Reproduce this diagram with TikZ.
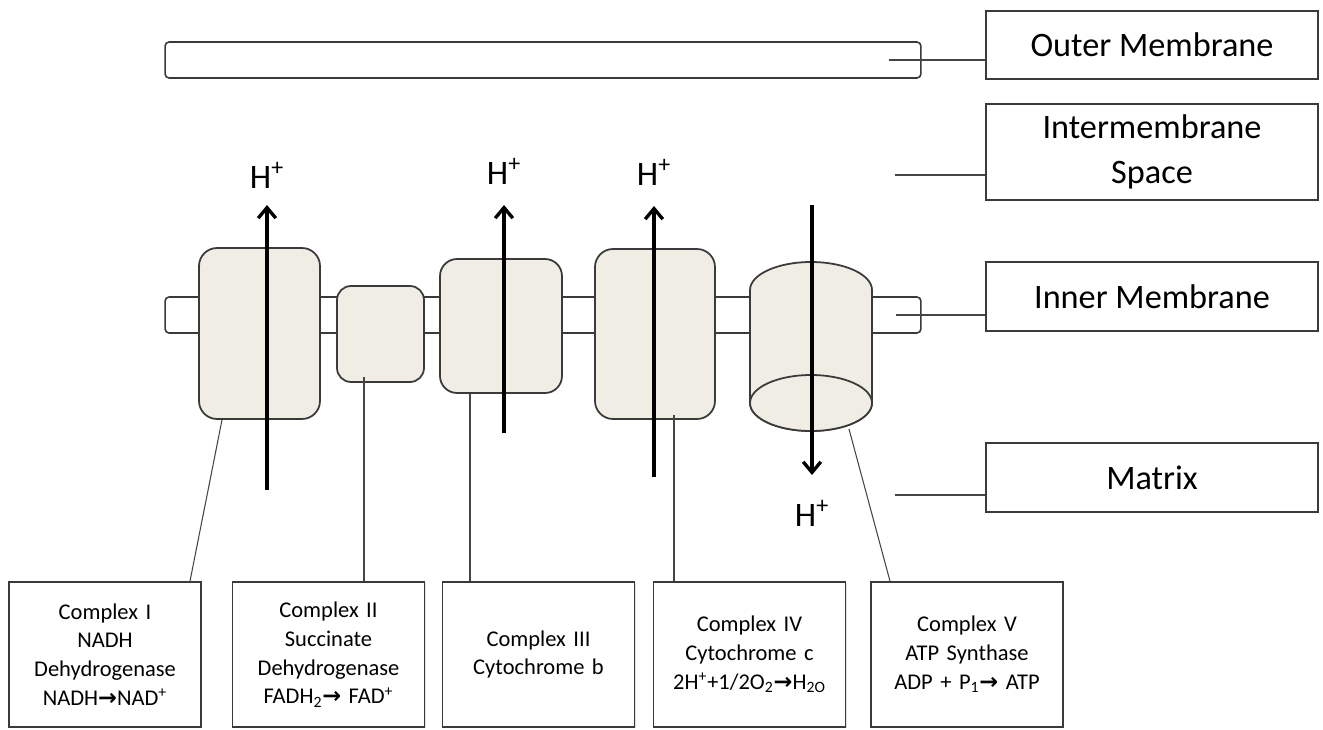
\documentclass[tikz,border=0pt]{standalone}
\usepackage{fontspec}
\setmainfont{Carlito}
\newfontfamily\arrowfont{DejaVu Sans}
\usepackage{xcolor}
\usepackage{tikz}
\usetikzlibrary{arrows.meta, positioning, calc, shadows}
\definecolor{cFILL}{HTML}{F0EDE5}
\definecolor{cLINE}{HTML}{3A3A3A}
\definecolor{cLEAD}{HTML}{454545}
\newcommand{\yields}{{\arrowfont\bfseries →}}

\begin{document}
\begin{tikzpicture}[x=0.02cm, y=-0.02cm,
  membrane/.style={draw=cLINE, line width=0.9pt, rounded corners=0.08cm, fill=white,
    minimum width=15.12cm, minimum height=0.72cm, inner sep=0pt},
  cplx/.style={draw=cLINE, line width=1pt, fill=cFILL, inner sep=0pt},
  tag/.style={draw=cLINE, line width=0.9pt, fill=white, minimum width=6.64cm, align=center,
    font=\fontsize{19.5}{25.3}\selectfont,
    drop shadow={shadow xshift=0.6pt, shadow yshift=-0.8pt, opacity=0.25}},
  info/.style={draw=cLINE, line width=0.9pt, fill=white, minimum width=3.84cm,
    minimum height=2.9cm, text width=3.6cm, align=center,
    font=\fontsize{12.8}{16.4}\selectfont,
    drop shadow={shadow xshift=0.6pt, shadow yshift=-0.8pt, opacity=0.25}},
  lead/.style={draw=cLEAD, line width=0.6pt},
  pump/.style={line width=1.9pt, -{Straight Barb[length=6pt,width=10pt]}},
  hion/.style={inner sep=0pt, font=\fontsize{19.5}{24}\selectfont},
]
\useasboundingbox[fill=white] (0,0) rectangle (1323,730);

\node[membrane] (om) at (543,60) {};
\node[membrane] (im) at (543,315) {};

\node[cplx, rounded corners=0.36cm, minimum width=2.42cm, minimum height=3.42cm] (c1) at (259.5,333.5) {};
\node[cplx, rounded corners=0.28cm, minimum width=1.74cm, minimum height=1.92cm] (c2) at (380.5,334) {};
\node[cplx, rounded corners=0.34cm, minimum width=2.44cm, minimum height=2.68cm] (c3) at (501,326) {};
\node[cplx, rounded corners=0.36cm, minimum width=2.40cm, minimum height=3.40cm] (c4) at (655,334) {};

\filldraw[cplx] (750,290) -- (750,403)
  arc[start angle=180, end angle=360, x radius=1.22cm, y radius=0.56cm]
  -- (872,290)
  arc[start angle=0, end angle=180, x radius=1.22cm, y radius=0.56cm] -- cycle;
\filldraw[cplx] (811,403) ellipse[x radius=1.22cm, y radius=0.56cm];
\coordinate (c5) at (849,429);

\node[tag, minimum height=1.36cm] (lom) at (1152,45) {Outer Membrane};
\node[tag, minimum height=1.92cm] (lis) at (1152,152) {Intermembrane\\Space};
\node[tag, minimum height=1.38cm] (lim) at (1152,296.5) {Inner Membrane};
\node[tag, minimum height=1.38cm] (lmx) at (1152,477.5) {Matrix};

\coordinate (ims) at (895,175);
\coordinate (mx) at (895,495);
\draw[lead] ([xshift=-0.66cm]om.east) -- (om.east -| lom.west);
\draw[lead] (ims) -- (ims -| lis.west);
\draw[lead] ([xshift=-0.52cm]im.east) -- (im.east -| lim.west);
\draw[lead] (mx) -- (mx -| lmx.west);

\coordinate (p1a) at (267,490);  \coordinate (p1b) at (267,205);
\coordinate (p3a) at (504,433);  \coordinate (p3b) at (504,205);
\coordinate (p4a) at (654,477);  \coordinate (p4b) at (654,206);
\coordinate (p5a) at (812,205);  \coordinate (p5b) at (812,475);
\draw[pump] (p1a) -- (p1b);
\draw[pump] (p3a) -- (p3b);
\draw[pump] (p4a) -- (p4b);
\draw[pump] (p5a) -- (p5b);
\node[hion, above=0.32cm of p1b] (h1) {H\textsuperscript{+}};
\node[hion, above=0.40cm of p3b] (h3) {H\textsuperscript{+}};
\node[hion, above=0.40cm of p4b] (h4) {H\textsuperscript{+}};
\node[hion, below=0.50cm of p5b] (h5) {H\textsuperscript{+}};

\node[info] (b1) at (105,654.5) {Complex I\\NADH\\Dehydrogenase\\NADH\yields NAD\textsuperscript{+}};
\node[info] (b2) at (328.5,654.5) {Complex II\\Succinate\\Dehydrogenase\\FADH\textsubscript{2}\yields{} FAD\textsuperscript{+}};
\node[info] (b3) at (538.5,654.5) {Complex III\\Cytochrome b};
\node[info] (b4) at (749.5,654.5) {Complex IV\\Cytochrome c\\2H\textsuperscript{+}+1/2O\textsubscript{2}\yields H\textsubscript{2O}};
\node[info] (b5) at (967,654.5) {Complex V\\ATP Synthase\\ADP + P\textsubscript{1}\yields{} ATP};

\draw[lead] ([xshift=-0.75cm]c1.south) -- ([xshift=1.7cm]b1.north);
\draw[lead] ([xshift=-0.33cm,yshift=0.12cm]c2.south) -- ([xshift=-0.33cm]c2.south |- b2.north);
\draw[lead] ([xshift=-0.62cm]c3.south) -- ([xshift=-0.62cm]c3.south |- b3.north);
\draw[lead] ([xshift=0.38cm,yshift=0.1cm]c4.south) -- ([xshift=0.38cm]c4.south |- b4.north);
\draw[lead] (c5) -- ([xshift=-1.54cm]b5.north);
\end{tikzpicture}
\end{document}
